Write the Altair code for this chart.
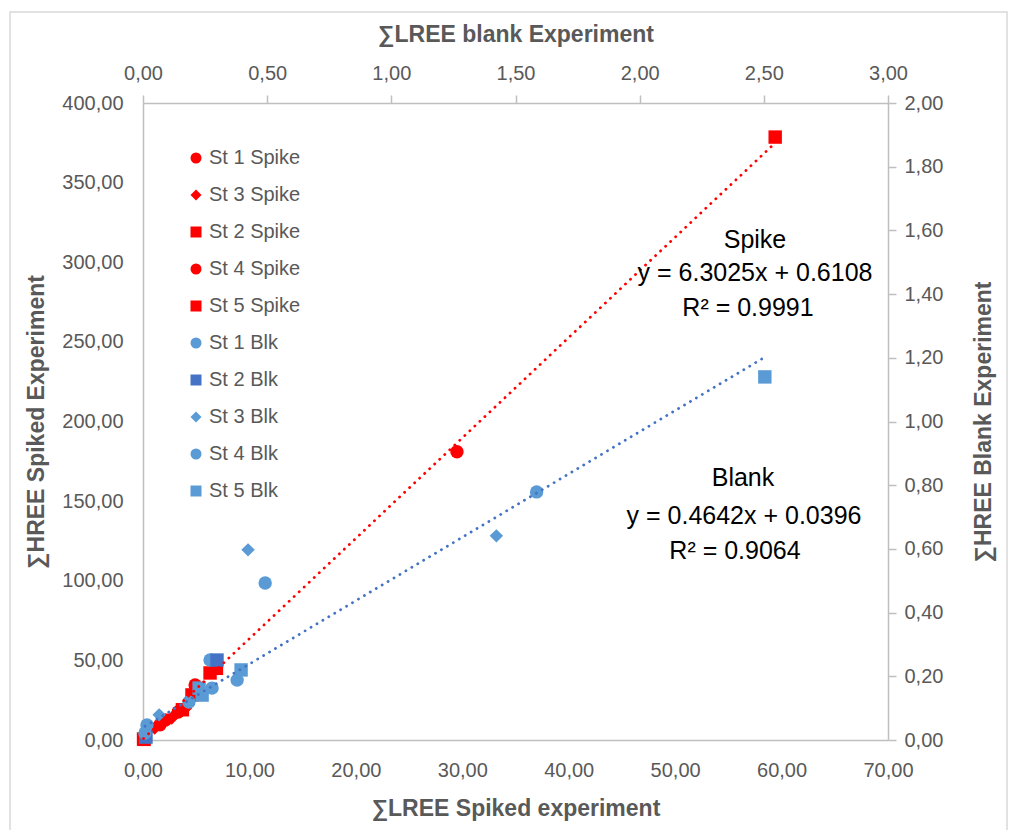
import altair as alt
import pandas as pd

# ---------------- data ----------------
series_names = ["St 1 Spike", "St 3 Spike", "St 2 Spike", "St 4 Spike", "St 5 Spike",
                "St 1 Blk", "St 2 Blk", "St 3 Blk", "St 4 Blk", "St 5 Blk"]
series_colors = ["#FF0000", "#FF0000", "#FF0000", "#FF0000", "#FF0000",
                 "#5B9BD5", "#4472C4", "#5B9BD5", "#5B9BD5", "#5B9BD5"]
series_shapes = ["circle", "diamond", "square", "circle", "square",
                 "circle", "square", "diamond", "circle", "square"]

# Spiked experiment (bottom x axis, left y axis)
st1_spike_x = [29.5, 4.9, 2.1, 0.2]
st1_spike_y = [181.0, 34.5, 12.6, 3.1]
st3_spike_x = [4.0, 2.7, 1.1]
st3_spike_y = [20.0, 13.8, 7.5]
st2_spike_x = [6.3, 4.6, 0.05]
st2_spike_y = [42.1, 28.3, 0.6]
st4_spike_x = [3.3, 1.6]
st4_spike_y = [17.6, 9.5]
st5_spike_x = [59.4, 6.9, 3.7, 0.1]
st5_spike_y = [378.6, 45.0, 19.0, 0.4]

# Blank experiment (top x axis, right y axis)
st1_blk_x = [1.585, 0.270, 0.185, 0.016]
st1_blk_y = [0.779, 0.251, 0.119, 0.047]
st2_blk_x = [0.298, 0.012]
st2_blk_y = [0.251, 0.009]
st3_blk_x = [1.423, 0.423, 0.065]
st3_blk_y = [0.641, 0.597, 0.079]
st4_blk_x = [0.492, 0.379, 0.278, 0.008]
st4_blk_y = [0.493, 0.188, 0.163, 0.022]
st5_blk_x = [2.504, 0.395, 0.238, 0.226]
st5_blk_y = [1.140, 0.220, 0.141, 0.163]

spike_slope, spike_intercept = 6.3025, 0.6108
blank_slope, blank_intercept = 0.4642, 0.0396

spike_label = ["Spike", "y = 6.3025x + 0.6108", "R\u00b2 = 0.9991"]
blank_label = ["Blank", "y = 0.4642x + 0.0396", "R\u00b2 = 0.9064"]

x_bottom_ticks = [0, 10, 20, 30, 40, 50, 60, 70]
x_top_ticks = [0, 0.5, 1.0, 1.5, 2.0, 2.5, 3.0]
y_left_ticks = [0, 50, 100, 150, 200, 250, 300, 350, 400]
y_right_ticks = [0, 0.2, 0.4, 0.6, 0.8, 1.0, 1.2, 1.4, 1.6, 1.8, 2.0]

# ---------------- tables ----------------
def table(pairs):
    rows = []
    for name, xs, ys in pairs:
        for a, b in zip(xs, ys):
            rows.append({"series": name, "x": a, "y": b})
    return pd.DataFrame(rows)

spike_df = table([("St 1 Spike", st1_spike_x, st1_spike_y),
                  ("St 3 Spike", st3_spike_x, st3_spike_y),
                  ("St 2 Spike", st2_spike_x, st2_spike_y),
                  ("St 4 Spike", st4_spike_x, st4_spike_y),
                  ("St 5 Spike", st5_spike_x, st5_spike_y)])
blank_df = table([("St 1 Blk", st1_blk_x, st1_blk_y),
                  ("St 2 Blk", st2_blk_x, st2_blk_y),
                  ("St 3 Blk", st3_blk_x, st3_blk_y),
                  ("St 4 Blk", st4_blk_x, st4_blk_y),
                  ("St 5 Blk", st5_blk_x, st5_blk_y)])

def fit_df(df, m, c):
    xs = [df["x"].min(), df["x"].max()]
    return pd.DataFrame({"x": xs, "y": [m * v + c for v in xs]})

spike_fit_df = fit_df(spike_df, spike_slope, spike_intercept)
blank_fit_df = fit_df(blank_df, blank_slope, blank_intercept)

# ---------------- styling ----------------
FONT = "Liberation Sans"
GREY = "#595959"
AX = "#BFBFBF"
label_expr = "replace(format(datum.value, '.2f'), '.', ',')"

def axis(orient, values, title, **kw):
    base = dict(orient=orient, values=values, title=title, labelExpr=label_expr,
                grid=False, domainColor=AX, domainWidth=1.5, tickColor=AX, tickWidth=1.5,
                labelFont=FONT, labelFontSize=20, labelColor=GREY, labelFlush=False,
                labelOverlap=False, titleFont=FONT, titleFontSize=23, titleFontWeight="bold",
                titleColor=GREY)
    base.update(kw)
    return alt.Axis(**base)

xs_bottom = alt.Scale(domain=[0, 70], nice=False, zero=False)
ys_left = alt.Scale(domain=[0, 400], nice=False, zero=False)
xs_top = alt.Scale(domain=[0, 3], nice=False, zero=False)
ys_right = alt.Scale(domain=[0, 2], nice=False, zero=False)

legend = alt.Legend(orient="none", legendX=43, legendY=45, title=None, labelFont=FONT,
                    labelFontSize=20, labelColor=GREY, symbolSize=121, rowPadding=17,
                    labelOffset=3, symbolStrokeWidth=0, padding=0)
color_enc = alt.Color("series:N", scale=alt.Scale(domain=series_names, range=series_colors),
                      legend=legend)
shape_enc = alt.Shape("series:N", scale=alt.Scale(domain=series_names, range=series_shapes),
                      legend=legend)

frame = alt.Chart(pd.DataFrame({"k": [0]})).mark_rect(
    color="#FFFFFF", fillOpacity=0, stroke="#D9D9D9", strokeWidth=1.5
).encode(x=alt.value(-133), x2=alt.value(864), y=alt.value(-91), y2=alt.value(740))

spike_pts = alt.Chart(spike_df).mark_point(filled=True, opacity=1, size=180).encode(
    x=alt.X("x:Q", scale=xs_bottom,
            axis=axis("bottom", x_bottom_ticks, "\u2211LREE Spiked experiment",
                      ticks=False, labelPadding=20, titlePadding=17)),
    y=alt.Y("y:Q", scale=ys_left,
            axis=axis("left", y_left_ticks, "\u2211HREE Spiked Experiment",
                      ticks=False, labelPadding=20, titlePadding=13)),
    color=color_enc, shape=shape_enc,
)

blank_pts = alt.Chart(blank_df).mark_point(filled=True, opacity=1, size=180).encode(
    x=alt.X("x:Q", scale=xs_top,
            axis=axis("top", x_top_ticks, "\u2211LREE blank Experiment",
                      ticks=True, tickSize=8, labelPadding=12, titlePadding=17)),
    y=alt.Y("y:Q", scale=ys_right,
            axis=axis("right", y_right_ticks, "\u2211HREE Blank Experiment",
                      ticks=True, tickSize=8, labelPadding=8, titlePadding=30,
                      titleAngle=270, titleBaseline="top")),
    color=color_enc, shape=shape_enc,
)

dot = dict(strokeWidth=2.8, strokeDash=[0.1, 6.8], strokeCap="round")
spike_line = alt.Chart(spike_fit_df).mark_line(color="#FF0000", **dot).encode(
    x=alt.X("x:Q", scale=xs_bottom, axis=None),
    y=alt.Y("y:Q", scale=ys_left, axis=None),
)
blank_line = alt.Chart(blank_fit_df).mark_line(color="#4472C4", **dot).encode(
    x=alt.X("x:Q", scale=xs_top, axis=None),
    y=alt.Y("y:Q", scale=ys_right, axis=None),
)

def text_line(s, px, py):
    return alt.Chart(pd.DataFrame({"t": [s]})).mark_text(
        font=FONT, fontSize=25, color="#000000", align="center", baseline="middle"
    ).encode(x=alt.value(px), y=alt.value(py), text="t:N")

texts = [
    text_line(spike_label[0], 612, 137),
    text_line(spike_label[1], 612, 170),
    text_line(spike_label[2], 605, 205),
    text_line(blank_label[0], 600, 375),
    text_line(blank_label[1], 601, 413),
    text_line(blank_label[2], 592, 448),
]

chart = alt.layer(frame, spike_pts, blank_pts, spike_line, blank_line, *texts).resolve_scale(
    x="independent", y="independent"
).properties(
    width=745, height=637,
    padding={"left": 143, "top": 103, "right": 122, "bottom": 90},
    autosize=alt.AutoSizeParams(type="none"),
    background="#FFFFFF",
).configure_view(stroke=None)

chart.save("out.html", embed_options={"renderer": "svg", "actions": False})
